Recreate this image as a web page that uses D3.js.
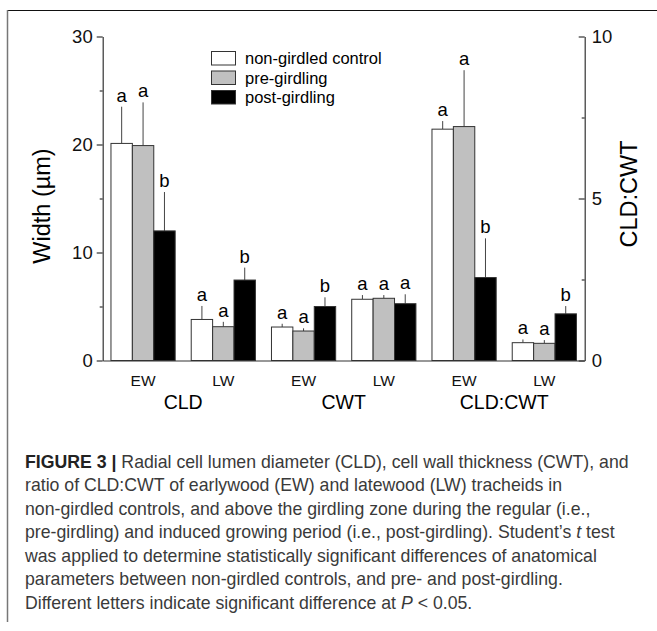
<!DOCTYPE html>
<html>
<head>
<meta charset="utf-8">
<script src="https://cdn.jsdelivr.net/npm/d3@7"></script>
<style>
  body { margin: 0; background: #fff; }
  svg { display: block; font-family: "Liberation Sans", Arial, sans-serif; }
</style>
</head>
<body>
<div id="chart"></div>
<script>
// Data
var groups = ["CLD EW", "CLD LW", "CWT EW", "CWT LW", "RATIO EW", "RATIO LW"];
var woodLabels = ["EW", "LW", "EW", "LW", "EW", "LW"];
var paramLabels = ["CLD", "CWT", "CLD:CWT"];
var groupAxis = ["left", "left", "left", "left", "right", "right"];
var treatments = ["non-girdled control", "pre-girdling", "post-girdling"];
var treatColors = ["#ffffff", "#c0c0c0", "#000000"];

var controlMean = [20.1, 3.8, 3.1, 5.67, 7.14, 0.55];
var controlErr = [3.4, 1.25, 0.3, 0.39, 0.25, 0.1];
var preMean = [19.9, 3.13, 2.73, 5.76, 7.22, 0.53];
var preErr = [4.0, 0.45, 0.25, 0.3, 1.74, 0.1];
var postMean = [12.0, 7.45, 5.0, 5.26, 2.56, 1.44];
var postErr = [3.6, 1.15, 0.85, 0.87, 1.21, 0.24];

var controlLetters = ["a", "a", "a", "a", "a", "a"];
var preLetters = ["a", "a", "a", "a", "a", "a"];
var postLetters = ["b", "b", "b", "a", "b", "b"];

var leftTicks = [0, 10, 20, 30];
var leftMinor = [5, 15, 25];
var rightTicks = [0, 5, 10];
var rightMinor = [2.5, 7.5];

var captionLines = [
    [["FIGURE 3 | ", "bold"], ["Radial cell lumen diameter (CLD), cell wall thickness (CWT), and", ""]],
    [["ratio of CLD:CWT of earlywood (EW) and latewood (LW) tracheids in", ""]],
    [["non-girdled controls, and above the girdling zone during the regular (i.e.,", ""]],
    [["pre-girdling) and induced growing period (i.e., post-girdling). Student\u2019s ", ""], ["t", "italic"], [" test", ""]],
    [["was applied to determine statistically significant differences of anatomical", ""]],
    [["parameters between non-girdled controls, and pre- and post-girdling.", ""]],
    [["Different letters indicate significant difference at ", ""], ["P", "italic"], [" < 0.05.", ""]]
];

var width = 657;
var height = 631;
var plot = { left: 102.7, right: 584.7, top: 36.5, bottom: 360.5 };

var svg = d3.select("#chart")
    .append("svg")
    .attr("width", width)
    .attr("height", height);

// frame lines of the figure panel
svg.append("line")
    .attr("x1", 7).attr("x2", width).attr("y1", 10.5).attr("y2", 10.5)
    .attr("stroke", "#111").attr("stroke-width", 1);
svg.append("line")
    .attr("x1", 7.5).attr("x2", 7.5).attr("y1", 10).attr("y2", 622)
    .attr("stroke", "#777").attr("stroke-width", 1.5);

// scales
var x0 = d3.scaleBand()
    .domain(groups)
    .range([plot.left, plot.right])
    .paddingInner(0.2)
    .paddingOuter(0.103);

var x1 = d3.scaleBand()
    .domain(treatments)
    .range([0, x0.bandwidth()]);

var yLeft = d3.scaleLinear().domain([0, 30]).range([plot.bottom, plot.top]);
var yRight = d3.scaleLinear().domain([0, 10]).range([plot.bottom, plot.top]);

// build rows for the bars
var means = [controlMean, preMean, postMean];
var errs = [controlErr, preErr, postErr];
var letters = [controlLetters, preLetters, postLetters];
var rows = [];
groups.forEach(function (g, i) {
    treatments.forEach(function (t, j) {
        rows.push({
            group: g, treat: t, color: treatColors[j],
            mean: means[j][i], err: errs[j][i], letter: letters[j][i],
            y: groupAxis[i] === "left" ? yLeft : yRight
        });
    });
});

var bars = svg.append("g");

bars.selectAll("line.err")
    .data(rows)
    .enter()
    .append("line")
    .attr("class", "err")
    .attr("x1", function (d) { return x0(d.group) + x1(d.treat) + x1.bandwidth() / 2; })
    .attr("x2", function (d) { return x0(d.group) + x1(d.treat) + x1.bandwidth() / 2; })
    .attr("y1", function (d) { return d.y(d.mean); })
    .attr("y2", function (d) { return d.y(d.mean + d.err); })
    .attr("stroke", "#444")
    .attr("stroke-width", 1);

bars.selectAll("rect")
    .data(rows)
    .enter()
    .append("rect")
    .attr("x", function (d) { return x0(d.group) + x1(d.treat); })
    .attr("y", function (d) { return d.y(d.mean); })
    .attr("width", x1.bandwidth())
    .attr("height", function (d) { return plot.bottom - d.y(d.mean); })
    .attr("fill", function (d) { return d.color; })
    .attr("stroke", "#333")
    .attr("stroke-width", 1);

bars.selectAll("text")
    .data(rows)
    .enter()
    .append("text")
    .attr("x", function (d) { return x0(d.group) + x1(d.treat) + x1.bandwidth() / 2; })
    .attr("y", function (d) { return d.y(d.mean + d.err) - 5; })
    .attr("text-anchor", "middle")
    .style("font-size", "18.5px")
    .text(function (d) { return d.letter; });

// left axis
var gLeft = svg.append("g")
    .attr("transform", "translate(" + plot.left + ",0)")
    .call(d3.axisLeft(yLeft).tickValues(leftTicks).tickSizeInner(6).tickSizeOuter(0).tickPadding(4));
svg.append("g")
    .attr("transform", "translate(" + plot.left + ",0)")
    .call(d3.axisLeft(yLeft).tickValues(leftMinor).tickSize(3).tickFormat(""))
    .select(".domain").remove();

// right axis, ticks pointing inward
var gRight = svg.append("g")
    .attr("transform", "translate(" + plot.right + ",0)")
    .call(d3.axisRight(yRight).tickValues(rightTicks).tickSizeInner(-6).tickSizeOuter(0).tickPadding(7));
svg.append("g")
    .attr("transform", "translate(" + plot.right + ",0)")
    .call(d3.axisRight(yRight).tickValues(rightMinor).tickSize(-3).tickFormat(""))
    .select(".domain").remove();

[gLeft, gRight].forEach(function (g) {
    g.selectAll("text").style("font-size", "18.5px").attr("fill", "#111");
});

// bottom axis
var gBottom = svg.append("g")
    .attr("transform", "translate(0," + plot.bottom + ")")
    .call(d3.axisBottom(x0).tickSize(0).tickSizeOuter(0).tickPadding(14)
        .tickFormat(function (d, i) { return woodLabels[i]; }));
gBottom.selectAll("text").style("font-size", "15.5px").attr("fill", "#111");

svg.selectAll(".domain, .tick line").attr("stroke", "#333").attr("stroke-width", 1.2);

// parameter labels under each pair of groups
svg.append("g").selectAll("text")
    .data(paramLabels)
    .enter()
    .append("text")
    .attr("x", function (d, i) {
        var a = x0(groups[i * 2]), b = x0(groups[i * 2 + 1]) + x0.bandwidth();
        return (a + b) / 2;
    })
    .attr("y", 408.5)
    .attr("text-anchor", "middle")
    .style("font-size", "19.5px")
    .text(function (d) { return d; });

// axis titles
svg.append("text")
    .attr("transform", "translate(50,206) rotate(-90)")
    .attr("text-anchor", "middle")
    .style("font-size", "23.5px")
    .text("Width (\u00b5m)");
svg.append("text")
    .attr("transform", "translate(636.5,194) rotate(-90)")
    .attr("text-anchor", "middle")
    .style("font-size", "23.5px")
    .text("CLD:CWT");

// legend
var legend = svg.append("g").attr("transform", "translate(211.5,51.5)");
var legendItems = legend.selectAll("g")
    .data(treatments)
    .enter()
    .append("g")
    .attr("transform", function (d, i) { return "translate(0," + i * 19.5 + ")"; });
legendItems.append("rect")
    .attr("width", 24)
    .attr("height", 13.5)
    .attr("fill", function (d, i) { return treatColors[i]; })
    .attr("stroke", "#333");
legendItems.append("text")
    .attr("x", 33.5)
    .attr("y", 12.5)
    .style("font-size", "16.5px")
    .text(function (d) { return d; });

// caption
var caption = svg.append("g")
    .style("font-size", "17.7px")
    .attr("fill", "#3a3a3a");
captionLines.forEach(function (line, i) {
    var t = caption.append("text")
        .attr("x", 25)
        .attr("y", 467.5 + i * 23.5);
    line.forEach(function (part) {
        var ts = t.append("tspan").text(part[0]);
        if (part[1] === "bold") ts.style("font-weight", "bold").attr("fill", "#222");
        if (part[1] === "italic") ts.style("font-style", "italic");
    });
});
</script>
</body>
</html>
